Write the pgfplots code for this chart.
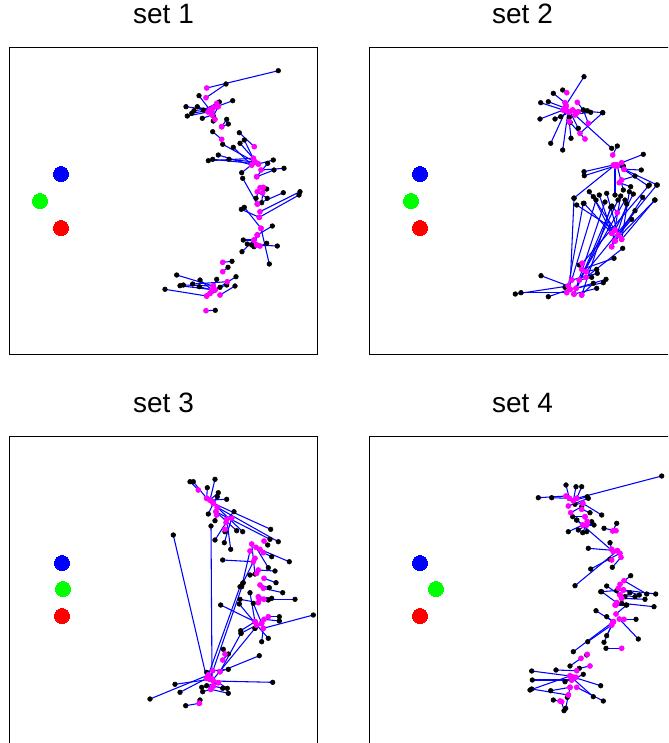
\documentclass[border=0pt]{standalone}
\usepackage{fontspec}
\setmainfont{Liberation Sans}
\usepackage{pgfplots}
\usepackage{pgfplotstable}
\pgfplotsset{compat=1.18}
\definecolor{mag}{RGB}{255,0,255}
\definecolor{lblue}{RGB}{0,0,255}
\definecolor{lgreen}{RGB}{0,255,0}
\definecolor{lred}{RGB}{255,0,0}

\pgfplotstableread{
bx by mx my
278.3 70.7 206.7 88
226 84 206 97.7
199 95.7 210 110
232.7 100.7 213 108
186 106.7 210 110
197.3 106.7 212 112
187.3 116 208 112
191.7 113.3 210 110
194 110.7 213 108
203.3 110 216.7 103.3
202.3 118.3 212 115
213.3 121 215 119.3
213.3 116 218.3 106.7
219.3 102 210 110
226.7 119.3 221.7 126.7
228.3 124 221.7 126.7
212.7 131.7 221.7 139.3
239.3 132.7 254.3 146.7
244.3 140 255 162
240 143.3 253.3 158.3
233.3 147.3 251.7 165
222.7 144.3 255 162
218.3 155 251.7 165
208.3 160.7 253.3 158.3
212.7 159.3 258.3 164
229 159.3 255 162
273.3 160 258.3 164
267.7 163.3 256.7 176.7
284 168.3 261 170
274 170 256.7 176.7
241.7 172.7 255 162
242.7 178.3 257.3 204
266.7 189 262.7 192.7
283.3 192.7 257.3 204
300 191.7 260 211.7
299 195 259.3 217.3
256 198.3 260 187.7
261.7 202.7 263.3 187.3
267.3 198.3 257.3 191.7
244.3 207.3 261 228.3
241.3 209.3 259.3 217.3
272.3 226 257.3 235
243.3 240 254 240
247.3 244 256.7 245
251.7 245 257.3 235
266.7 243.3 260 246
277.3 246 256.7 245
242 251.7 254 240
254 246.7 257.3 235
269.3 264 261 228.3
232 261.3 222.7 262.3
228 267.3 222.7 271.7
236 276.7 215 290
176.7 275 213.3 286
200 280 212 290
216.7 279.3 210 293.3
180 285.7 215 290
183.3 285 213.3 286
192.7 284 227.3 281.7
199.3 286.7 212 290
165 289.3 206.7 296
226.7 285 212 290
235 286 220 295
220 287.3 210 293.3
212.7 291 206.7 296
215.3 310.3 206 310.7
}\tA

\pgfplotstableread{
bx by mx my
584 76.7 566 105
553.3 93.3 565 102.7
562.7 90 566.7 92.7
540.7 102.7 563.3 110
548.3 101.7 565 108
540 119 563.3 110
555 119 570 111.7
560.7 116.7 572.7 110
569.3 117.3 566 107
570 122.3 569.3 121.7
583.3 110 577.3 102.3
587.3 110.7 578.3 111.7
590.7 112.3 576 114
602.7 112.7 572.7 110
578.3 128.3 570 111.7
550.7 143.3 566 110
571 138.3 569.3 121.7
562.7 150 568 112
611.7 148.3 575 115
583.3 110 588.3 123.3
602.7 112.7 580 133.3
570 122.3 585 139
617.3 146 612.7 155
643.3 154.3 621.7 162.7
641.3 170 624 169.3
623.3 166 617.3 166
584 171.7 613.3 165
584.3 175.7 615 166
635 176 621.7 180
630.7 186.7 619.3 182.7
648.3 186 617 165
657.3 185 624 169.3
574 198 615 165
589.3 191.7 615 230
593.3 196.7 611.7 233.3
599.3 195 615 241
606.7 193.3 618.3 235
615 195 615 165
620.7 196 611.7 246.7
623.3 190 617 165
629.3 191.7 621.7 239.3
633.3 194 615 230
642.7 197.3 618.3 235
654.7 200 621.7 239.3
576.7 205 615 230
584 203.3 611.7 233.3
626.7 204 615 241
611.7 206.7 574 294
574 198.3 570 289.3
583.3 203.3 568.3 286
596 200 571.7 280
605 202 576 288.3
618 200 574 294
625 200 579.3 280
610.7 207.3 581.7 295
649.3 185 582.3 263.3
656.7 185 586 271.7
655 200 615 241
635 210.7 611.7 246.7
631.7 219.3 618.3 235
622.7 248.3 586 277.3
614 258.3 581.7 269.3
579.3 265 582.3 263.3
596.7 269.3 586 271.7
597.3 273.3 571.7 280
591.7 277.3 579.3 280
606 279.3 576 288.3
603.3 282.7 570 289.3
593.3 283.3 581.7 295
596.7 288.3 574 294
541 275.7 568.3 286
565 287.3 570 289.3
521 292.7 566.7 292.7
515.3 294 568.3 286
548.3 296.7 570 289.3
612 206 617.3 212.7
}\tB

\pgfplotstableread{
bx by mx my
190 481.7 198.3 490
193.3 481.7 206.7 498.3
215 479.3 210 500
207.3 487.7 206.7 498.3
218.3 492.7 210 500
217.3 496.7 213.3 503.3
226.7 499.3 210 500
208.3 514 213.3 503.3
215 520.7 216.7 515
234 511.7 226.7 519.3
225 531.7 225 529.3
236.7 530.7 216 511.7
242.7 531.7 217.3 507.3
270.7 529.3 213.3 503.3
270 539.3 216 511.7
278.3 541.7 217.3 507.3
215 540 226 522.7
224.3 542.7 231.7 518.3
230.7 549.3 226.7 519.3
267.7 545 264 541
271.7 556.7 263.3 552.7
222.7 560 253.3 561.7
289.3 561.7 260 549.3
268.3 567.7 256 547.3
275 571 258.3 570
250 575 256.7 573.3
255 574 251.7 544
242.7 583.3 255 558.3
241.7 586.7 250 551
276 582.7 264 578.3
269.3 587.7 260 585
282.7 592.7 263.3 588.3
295 599.3 264 599.3
271.7 598.3 258.3 596.7
268.3 600 259.3 599.3
240 599.3 258.3 602.7
220.7 605 255 621.7
250 592.7 255 621.7
239.3 604 256.7 625
253.3 603.3 261.7 623.3
279.3 616.7 268.3 616.7
279.3 621 264 619.3
313.3 615 263.3 628.3
240.7 630.7 255 621.7
241 633.3 256.7 625
255 628.3 261.7 623.3
261.7 641.7 263.3 628.3
268.3 638.3 256.7 625
259.3 655.7 220 671.7
223.3 649.3 225 654
228.3 654 222.7 660
228.3 669.3 212.7 670.7
206.7 672.3 208.3 675
175 684.3 210 679.3
180 692.3 206.7 678.3
150 699 208.3 675
201.7 687.3 213.3 686
202.7 691.7 210.7 689.3
206.7 685.7 218.3 682.7
222.7 688.3 213.3 686
227.3 688.3 218.3 682.7
228.3 693.3 210.7 689.3
272.7 682.3 213.3 681
200 700 199.3 703.3
185.7 705.7 199.3 703.3
173.3 535 206.7 678.3
211 526 212 679
240 586.7 208.3 675
243.3 582.7 210 679.3
255 628.3 212.7 680
241 633.3 220 671.7
}\tC

\pgfplotstableread{
bx by mx my
661.7 476 576.7 498.3
566 485 569.3 498.3
576 486.7 573.3 500.7
581.7 486.7 576.7 498.3
538.3 497.7 566 496
551.7 497.7 569.3 498.3
587.3 496.7 573.3 500.7
588.3 498.3 568.3 506
575 504.3 582.7 503.3
581.7 506.7 570.7 512.7
590 512.7 581.7 509.3
601.7 515 582.7 503.3
572.7 516.7 585 516.7
576.7 520 582.7 525
591.7 521.7 587.3 521.7
594 525 586.7 525
616.7 523.3 612.7 531
568.3 531.7 582.7 525
578.3 530 586.7 525
582.7 532.7 587.3 521.7
586.7 531.7 585 516.7
604 528.3 616 530.7
610 542.7 611.7 549.3
576.7 520 613.3 551.7
588.3 548.3 617.3 550.7
610 559.3 611.7 560
590.7 569 620 553.3
612.3 567.3 621 557.3
575 585.7 617.3 550.7
630.7 575.7 620 584.3
606.7 586 620 595
600.7 591.7 623.3 590
616.7 590.7 618.3 588.3
630 592.7 621.7 598.3
635 596.7 620 595
639.3 595 623.3 590
646.7 594 624 580.7
655.7 594 623.3 590
625 596.7 620 595
645 599.3 621.7 598.3
654 606.7 616.7 602.7
621.7 603.3 615 605
626 605 616 605
601.7 591.7 616.7 602.7
596 610.7 613.3 621.7
606.7 616.7 613.3 621.7
636 619.3 624 619.3
606.7 635.7 611.7 625
604 642.3 613.3 621.7
638.3 639 619.3 619
587.7 641.7 611.7 625
606 648.3 621.7 648.3
573.3 651.7 613.3 621.7
626.7 605 616 614
586.7 655 587.3 654.3
570 666 581 658.3
579.3 668.3 590 666
556 670 576.7 670.7
583.3 674.3 571.7 680
531.7 671 570 676
532.3 680 571.7 680
565 681.7 576 677.3
530 690 570 676
531.7 689 568.3 695
550.7 690.7 570 687.3
600.7 685.7 573 677
593.3 696.7 570 676
603.3 701 576.7 687.3
553.3 700 560 701
567.3 697.3 568.3 695
565.7 708.3 570 687.3
564 710.7 561.7 701.7
}\tD

\pgfplotsset{
  panel/.style={
    width=230.25pt, height=230.25pt, scale only axis,
    anchor=north west, y dir=reverse,
    axis lines=box, xtick=\empty, ytick=\empty,
    axis line style={black, line width=0.75pt},
    title style={font=\fontsize{21}{24}\selectfont, at={(0.5,1)}, anchor=base, yshift=12pt},
  },
  seg/.style={lblue, line width=0.8pt, quiver={u=\thisrow{mx}-\thisrow{bx}, v=\thisrow{my}-\thisrow{by}}},
  blk/.style={only marks, mark=*, mark size=1.75pt, color=black, mark options={draw=none, fill=black}},
  mg/.style={only marks, mark=*, mark size=1.9pt, color=mag, mark options={draw=none, fill=mag}},
  big/.style={only marks, mark=*, mark size=5.6pt, color=#1, mark options={draw=#1, fill=#1, line width=0pt}},
}

\begin{document}
\begin{tikzpicture}
\path[use as bounding box] (0,0) rectangle (501pt,-557.25pt);
\clip (0,0) rectangle (501pt,-557.25pt);

\begin{axis}[panel, at={(7.5pt,-35.25pt)}, xmin=10, xmax=317, ymin=47, ymax=354, title={set 1}]
\addplot[seg] table[x=bx, y=by] {\tA};
\addplot[blk] table[x=bx, y=by] {\tA};
\addplot[mg] table[x=mx, y=my] {\tA};
\addplot[big=lblue] coordinates {(61,174)};
\addplot[big=lgreen] coordinates {(40,201)};
\addplot[big=lred] coordinates {(61,228)};
\end{axis}

\begin{axis}[panel, at={(276.75pt,-35.25pt)}, xmin=369, xmax=676, ymin=47, ymax=354, title={set 2}]
\addplot[seg] table[x=bx, y=by] {\tB};
\addplot[blk] table[x=bx, y=by] {\tB};
\addplot[mg] table[x=mx, y=my] {\tB};
\addplot[big=lblue] coordinates {(420,174)};
\addplot[big=lgreen] coordinates {(411,201)};
\addplot[big=lred] coordinates {(420,228)};
\end{axis}

\begin{axis}[panel, at={(7.5pt,-327pt)}, xmin=10, xmax=317, ymin=436, ymax=743, title={set 3}]
\addplot[seg] table[x=bx, y=by] {\tC};
\addplot[blk] table[x=bx, y=by] {\tC};
\addplot[mg] table[x=mx, y=my] {\tC};
\addplot[big=lblue] coordinates {(62,563)};
\addplot[big=lgreen] coordinates {(63,589)};
\addplot[big=lred] coordinates {(62,616)};
\end{axis}

\begin{axis}[panel, at={(276.75pt,-327pt)}, xmin=369, xmax=676, ymin=436, ymax=743, title={set 4}]
\addplot[seg] table[x=bx, y=by] {\tD};
\addplot[blk] table[x=bx, y=by] {\tD};
\addplot[mg] table[x=mx, y=my] {\tD};
\addplot[big=lblue] coordinates {(420,563)};
\addplot[big=lgreen] coordinates {(436,589)};
\addplot[big=lred] coordinates {(420,616)};
\end{axis}
\end{tikzpicture}
\end{document}
